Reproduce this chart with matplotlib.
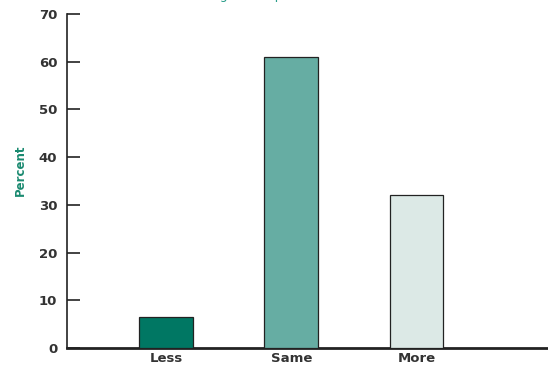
import numpy as np
import matplotlib.pyplot as plt

categories = ["Less", "Same", "More"]
percent = [6.5, 61, 32]
bar_colors = ["#007763", "#66ada3", "#dce9e6"]
yticks = [0, 10, 20, 30, 40, 50, 60, 70]

fig = plt.figure(figsize=(5.48, 3.66), dpi=100)
ax = fig.add_axes([67 / 548, 18 / 366, 1 - 67 / 548, 334 / 366])

x = np.arange(len(categories))
ax.bar(x, percent, width=0.43, color=bar_colors, edgecolor="#222222", linewidth=0.9, zorder=3)

ax.set_xlim(-0.79, 3.05)
ax.set_ylim(0, 70)
ax.set_xticks(x, categories)
ax.set_yticks(yticks)

for s in ("top", "right"):
    ax.spines[s].set_visible(False)
ax.spines["left"].set_linewidth(1.2)
ax.spines["bottom"].set_linewidth(2)
ax.spines["left"].set_color("#222222")
ax.spines["bottom"].set_color("#222222")

ax.tick_params(axis="y", direction="in", length=9, width=1.2, pad=7, colors="#222222",
               labelsize=9.5)
ax.tick_params(axis="x", length=0, pad=3, colors="#222222", labelsize=9.5)
for lbl in ax.get_xticklabels() + ax.get_yticklabels():
    lbl.set_fontweight("bold")
    lbl.set_color("#333333")

ax.set_ylabel("Percent", color="#1a8a70", fontweight="bold", fontsize=8.5)
ax.yaxis.set_label_coords(-0.083, 0.533)

# title, mostly cut off at the top edge of the image
fig.text(160 / 548, 1 + 0.5 / 366, "(Percentage of respondents)", color="#2a9d8a",
         fontsize=9, va="baseline", ha="left")

fig.savefig("out.png", dpi=100)
